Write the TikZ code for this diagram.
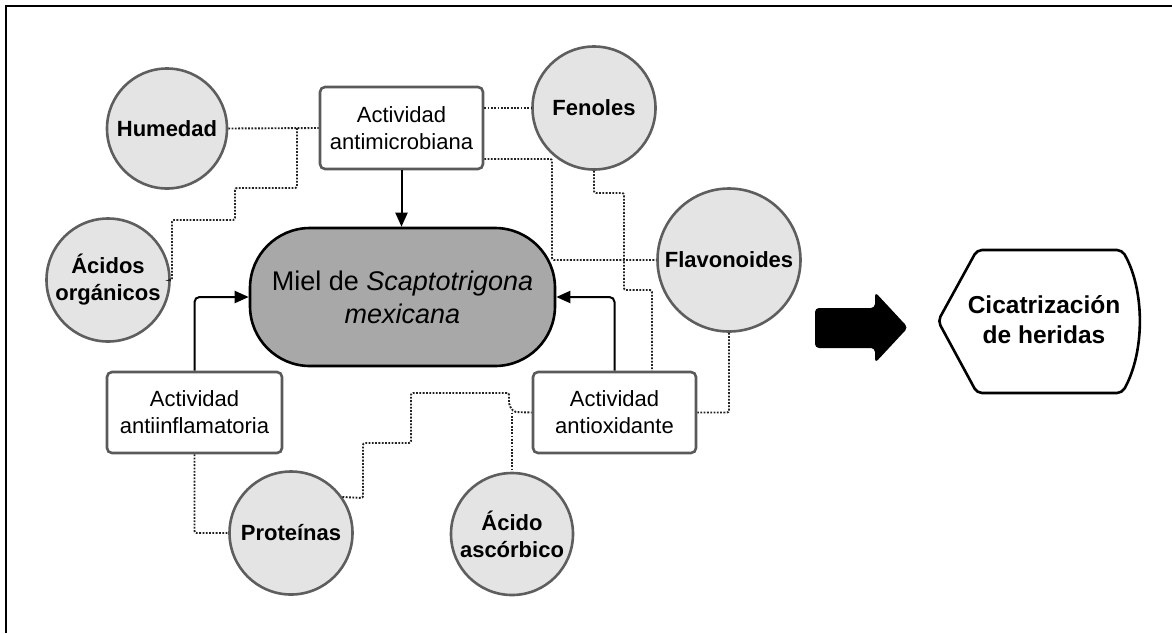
\documentclass[tikz,border=0pt]{standalone}
\usepackage{fontspec}
\setmainfont{Liberation Sans}
\usetikzlibrary{arrows.meta,calc}
\definecolor{circfill}{HTML}{E4E4E4}
\definecolor{circline}{HTML}{5E5E5E}
\definecolor{boxline}{HTML}{5A5A5A}
\definecolor{mielfill}{HTML}{A8A8A8}
\definecolor{dotcol}{HTML}{222222}
\begin{document}
\begin{tikzpicture}[x=1pt,y=-1pt,
 circ/.style={circle, draw=circline, line width=2.6pt, fill=circfill, inner sep=0pt, align=center, font=\bfseries\fontsize{22}{27}\selectfont},
 actbox/.style={rectangle, rounded corners=5pt, draw=boxline, line width=2.6pt, fill=white, align=center, inner sep=0pt, minimum height=81pt, font=\fontsize{22}{27}\selectfont},
 arr/.style={draw=black, line width=2pt, rounded corners=5pt, -{Triangle[length=14pt,width=12pt]}},
 dots/.style={draw=dotcol, line width=1.9pt, dash pattern=on 1.8pt off 1.5pt, rounded corners=2pt}]
\useasboundingbox (0,0) rectangle (1172,633);
% frame (left and top edges)
\draw[line width=2.2pt] (6,633) -- (6,6) -- (1172,6);

% circles
\node[circ, minimum size=120pt] (hum) at (167,128.5) {Humedad};
\node[circ, minimum size=123pt] (fen) at (594,108) {Fenoles};
\node[circ, minimum size=143pt] (flav) at (729,260) {Flavonoides};
\node[circ, minimum size=123pt] (acid) at (108,280) {Ácidos\\orgánicos};
\node[circ, minimum size=123pt] (prot) at (291,533) {Proteínas};
\node[circ, minimum size=122pt] (asc) at (512,534) {Ácido\\ascórbico};

% activity boxes
\node[actbox, minimum width=163pt, minimum height=82pt] (amb) at (401.5,128) {Actividad\\antimicrobiana};
\node[actbox, minimum width=175pt] (ainf) at (194.5,412.5) {Actividad\\antiinflamatoria};
\node[actbox, minimum width=163pt] (aox) at (614.5,412.5) {Actividad\\antioxidante};

% central node
\node[rectangle, rounded corners=60pt, draw=black, line width=2.6pt, fill=mielfill,
      minimum width=305pt, minimum height=138pt, align=center,
      font=\fontsize{27}{33}\selectfont] (miel) at (402.5,297) {Miel de \textit{Scaptotrigona}\\\textit{mexicana}};

% solid arrows
\draw[arr] (amb.south) -- (amb.south |- miel.north);
\draw[arr] (ainf.north) |- (miel.west);
\draw[arr] (aox.north) |- (miel.east);

% dotted connectors
\draw[dots] (hum.east) -- (amb.west);
\coordinate (j1) at (297,128);
\draw[dots] (j1) -- (297,188) -- (235,188) -- (235,220) -- (172,220) -- (172,280) -- (acid.east);
\draw[dots] (amb.east |- fen.west) -- (fen.west);
\draw[dots] ([yshift=-31pt]amb.east) -- (552,159) |- (flav.west);
\draw[dots] (fen.south) -- (594,193) -- (624,193) -- (624,290) -- (652,290) -- ([xshift=37.5pt]aox.north);
\draw[dots] (flav.south) |- (aox.east);
\draw[dots] (prot.35) -- (363,498) -- (363,443) -- (411,443) -- (411,393) -- (509,393) -- (509,405) -- (514,412) -- (aox.west);
\draw[dots] (asc.north |- aox.west) -- (asc.north);
\draw[dots] (ainf.south) |- (prot.west);

% block arrow
\fill[black, rounded corners=4pt] (815,308) -- (875,308) -- (875,292) -- (908,327.5) -- (875,363) -- (875,348) -- (815,348) -- cycle;

% outcome shape
\draw[black, line width=2.6pt, fill=white, rounded corners=5pt]
  (938,321) -- (977,250) -- (1122,250) .. controls (1145,290) and (1145,352) .. (1122,393) -- (977,393) -- cycle;
\node[align=center, font=\bfseries\fontsize{24.5}{30}\selectfont] (cic) at (1044,320) {Cicatrización\\de heridas};
\end{tikzpicture}
\end{document}
